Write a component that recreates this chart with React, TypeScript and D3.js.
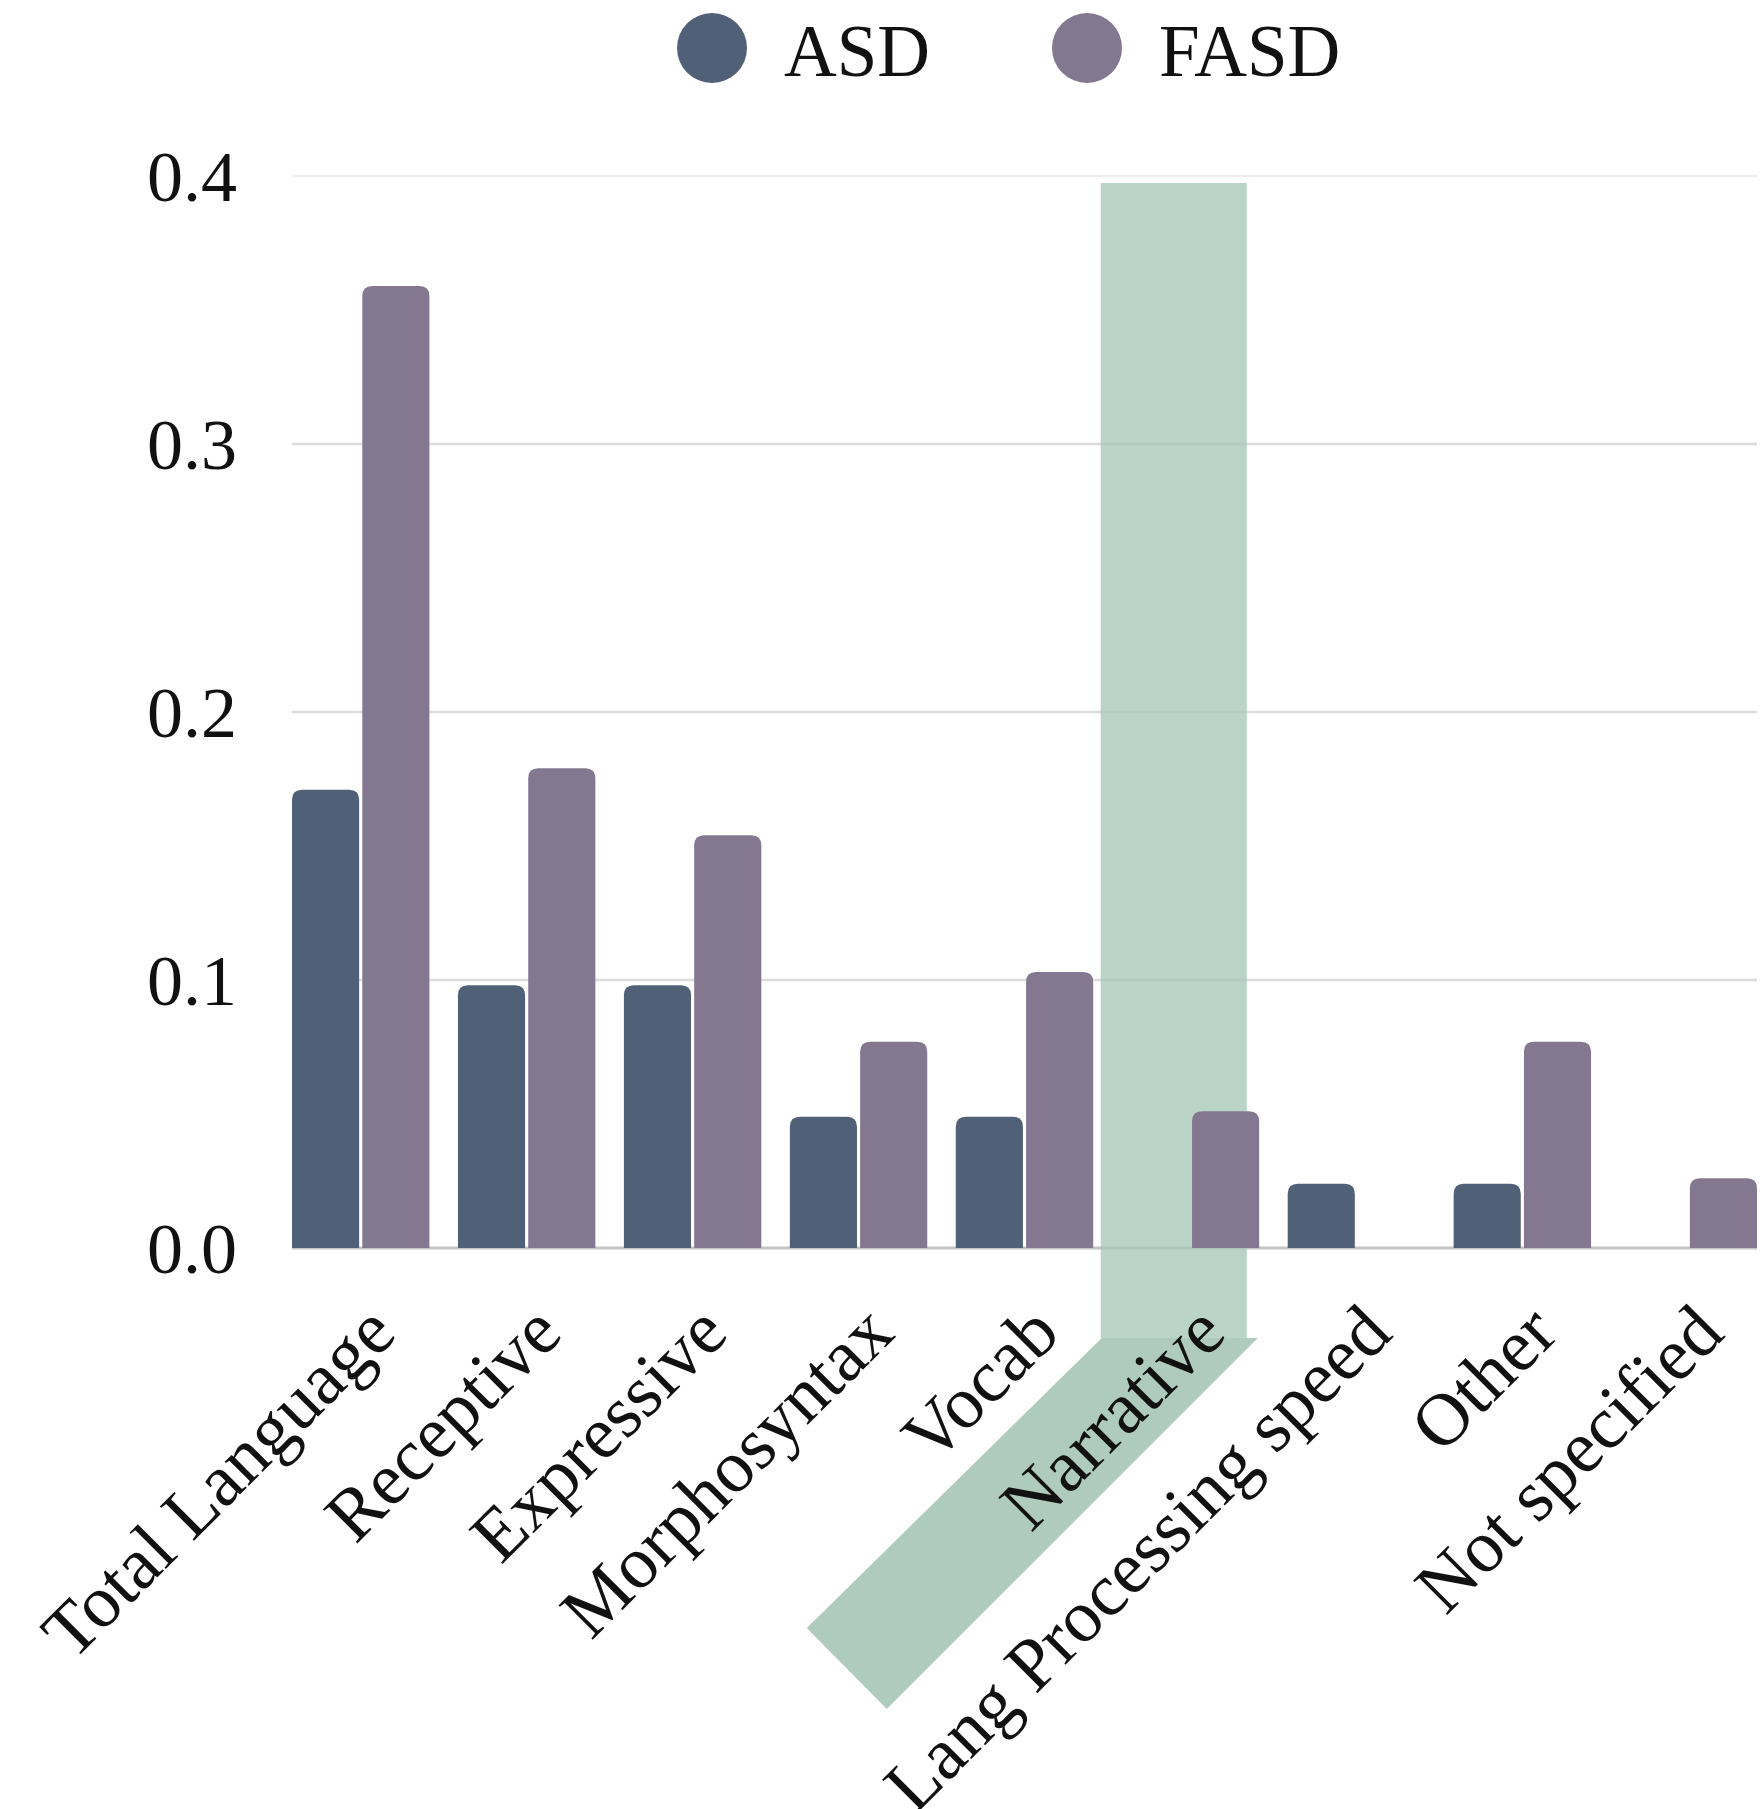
import { useEffect, useRef } from "react";
import * as d3 from "d3";

const categories = [
  "Total Language",
  "Receptive",
  "Expressive",
  "Morphosyntax",
  "Vocab",
  "Narrative",
  "Lang Processing speed",
  "Other",
  "Not specified",
];
const seriesNames = ["ASD", "FASD"];
const asdValues = [0.171, 0.098, 0.098, 0.049, 0.049, 0, 0.024, 0.024, 0];
const fasdValues = [0.359, 0.179, 0.154, 0.077, 0.103, 0.051, 0, 0.077, 0.026];
const yTicks = [0, 0.1, 0.2, 0.3, 0.4];
const highlighted = "Narrative";

const W = 1764;
const H = 1809;
const FONT = "'Liberation Serif', 'Times New Roman', serif";
const colors: Record<string, string> = { ASD: "#4f6077", FASD: "#847891" };

// bar with rounded top corners only
function topRounded(x: number, y: number, w: number, h: number, r: number) {
  const rr = Math.min(r, h, w / 2);
  return `M${x},${y + h}V${y + rr}Q${x},${y} ${x + rr},${y}H${x + w - rr}Q${x + w},${y} ${x + w},${y + rr}V${y + h}Z`;
}

export default function App() {
  const ref = useRef<SVGSVGElement>(null);

  useEffect(() => {
    const svg = d3.select(ref.current);
    svg.selectAll("*").remove();

    const left = 292;
    const right = 1757;
    const top = 176;
    const bottom = 1248;

    const x = d3.scaleBand<string>().domain(categories).range([left, right]).paddingInner(0.172).paddingOuter(0);
    const xs = d3.scaleBand<string>().domain(seriesNames).range([0, x.bandwidth()]).paddingInner(0.045);
    const y = d3.scaleLinear().domain([0, 0.4]).range([bottom, top]);

    // gridlines
    svg
      .append("g")
      .selectAll("line")
      .data(yTicks.filter((t) => t > 0))
      .join("line")
      .attr("x1", left)
      .attr("x2", right)
      .attr("y1", (d) => y(d))
      .attr("y2", (d) => y(d))
      .attr("stroke", (d) => (d === 0.4 ? "#ededed" : "#dcdcdc"))
      .attr("stroke-width", 2.5);

    // baseline
    svg
      .append("line")
      .attr("x1", left)
      .attr("x2", right)
      .attr("y1", y(0))
      .attr("y2", y(0))
      .attr("stroke", "#c4c4c4")
      .attr("stroke-width", 3);

    // y tick labels
    svg
      .append("g")
      .selectAll("text")
      .data(yTicks)
      .join("text")
      .attr("x", 237)
      .attr("y", (d) => y(d) + 25)
      .attr("text-anchor", "end")
      .attr("font-family", FONT)
      .attr("font-size", 72)
      .attr("fill", "#111")
      .text((d) => d3.format(".1f")(d));

    // highlight over the Narrative column
    const hx = (x(highlighted) as number) - 21;
    const hw = 146;
    const hBottom = 1338;
    svg
      .append("rect")
      .attr("x", hx)
      .attr("y", 183)
      .attr("width", hw)
      .attr("height", hBottom - 183)
      .attr("fill", "#a3c6b4")
      .attr("fill-opacity", 0.75);
    const drop = 371;
    svg
      .append("polygon")
      .attr(
        "points",
        [
          [hx + 1, hBottom],
          [hx + hw + 11, hBottom],
          [hx + hw + 11 - drop, hBottom + drop],
          [hx + hw + 11 - drop - 80, hBottom + drop - 81],
        ]
          .map((p) => p.join(","))
          .join(" ")
      )
      .attr("fill", "#afcbbd");

    // bars
    const rows = categories.map((c, i) => ({ cat: c, ASD: asdValues[i], FASD: fasdValues[i] }));
    const groups = svg
      .append("g")
      .selectAll("g")
      .data(rows)
      .join("g")
      .attr("transform", (d) => `translate(${x(d.cat)},0)`);
    groups
      .selectAll("path")
      .data((d) => seriesNames.map((s) => ({ s, v: (d as any)[s] as number })).filter((e) => e.v > 0))
      .join("path")
      .attr("d", (e) => topRounded(xs(e.s) as number, y(e.v), xs.bandwidth(), y(0) - y(e.v), 10))
      .attr("fill", (e) => colors[e.s]);

    // x labels
    svg
      .append("g")
      .selectAll("text")
      .data(categories)
      .join("text")
      .attr("transform", (c) => `translate(${(x(c) as number) + x.bandwidth() / 2 + 38},${bottom + 88}) rotate(-45)`)
      .attr("text-anchor", "end")
      .attr("font-family", FONT)
      .attr("font-size", 74)
      .attr("fill", "#111")
      .text((c) => c);

    // legend
    const legend = svg
      .append("g")
      .selectAll("g")
      .data(seriesNames)
      .join("g")
      .attr("transform", (_s, i) => `translate(${712 + i * 375},48)`);
    legend.append("circle").attr("r", 35).attr("fill", (s) => colors[s]);
    legend
      .append("text")
      .attr("x", 72)
      .attr("y", 28)
      .attr("font-family", FONT)
      .attr("font-size", 73)
      .attr("fill", "#111")
      .text((s) => s);
  }, []);

  return (
    <svg
      ref={ref}
      width={W}
      height={H}
      style={{ position: "absolute", left: 0, top: 0, background: "#fff" }}
    />
  );
}
